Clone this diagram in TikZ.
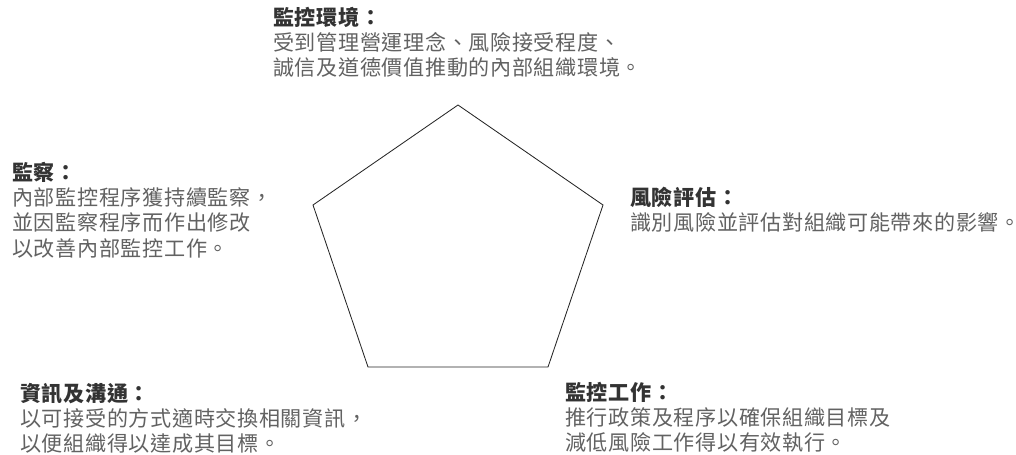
\documentclass[tikz,border=0pt]{standalone}
\usepackage{fontspec}
\newfontfamily\tcfont[LetterSpace=3]{Noto Sans CJK TC}
\usetikzlibrary{positioning}
\definecolor{bodygray}{HTML}{626262}
\definecolor{headgray}{HTML}{333333}
\tikzset{block/.style={anchor=base west,inner sep=0pt,text width=12cm,align=left,text=bodygray,font=\tcfont\fontsize{15}{18.1}\selectfont}}
\newcommand{\hd}[1]{\textcolor{headgray}{\bfseries #1}}

\begin{document}
\begin{tikzpicture}[x=0.025cm,y=-0.025cm]
\useasboundingbox (0,0) rectangle (1016,454);
\coordinate (ptop) at (458,105);
\coordinate (pright) at (603,205);
\coordinate (pbr) at (548,367);
\coordinate (pbl) at (368,367);
\coordinate (pleft) at (313,205);
\draw[line width=0.6pt,black!85] (ptop) -- (pright) -- (pbr) -- (pbl) -- (pleft) -- cycle;
\node[block] (environment) at (273,25) {\hd{監控環境：}\\受到管理營運理念、風險接受程度、\\誠信及道德價值推動的內部組織環境。};
\node[block] (monitoring) at (12,180) {\hd{監察：}\\內部監控程序獲持續監察，\\並因監察程序而作出修改\\以改善內部監控工作。};
\node[block] (risk) at (630,205) {\hd{風險評估：}\\識別風險並評估對組織可能帶來的影響。};
\node[block] (information) at (20,401) {\hd{資訊及溝通：}\\以可接受的方式適時交換相關資訊，\\以便組織得以達成其目標。};
\node[block] (control) at (565,400) {\hd{監控工作：}\\推行政策及程序以確保組織目標及\\減低風險工作得以有效執行。};
\end{tikzpicture}
\end{document}
